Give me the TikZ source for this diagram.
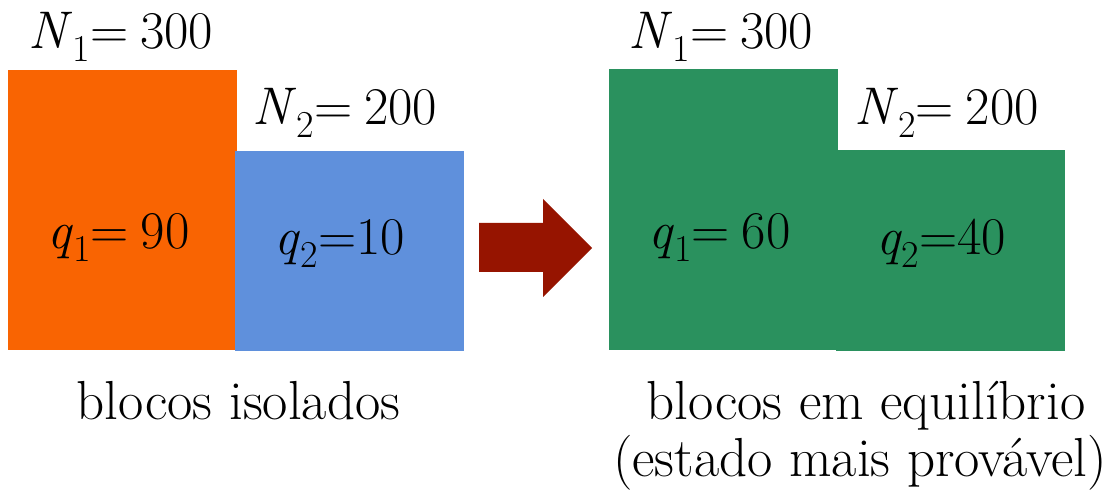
\documentclass[tikz,border=0pt]{standalone}
\usepackage{fontspec}
\definecolor{blkorange}{RGB}{249,100,2}
\definecolor{blkblue}{RGB}{95,144,220}
\definecolor{blkgreen}{RGB}{42,145,94}
\definecolor{arrowred}{RGB}{150,20,0}
\newcommand{\vlab}[3]{\textit{#1}\raisebox{-12.5pt}{\fontsize{38}{38}\selectfont #2}#3}
\begin{document}
\begin{tikzpicture}[x=1pt,y=-1pt,
  block/.style={draw=none,inner sep=0,anchor=north west},
  txt/.style={inner sep=0,anchor=base,font=\fontsize{53}{60}\selectfont},
  captxt/.style={inner sep=0,anchor=base,font=\fontsize{55}{62}\selectfont}]
\useasboundingbox (0,0) rectangle (1109,494);
% left blocks
\node[block,fill=blkorange,minimum width=229pt,minimum height=280pt] (b1) at (8,70) {};
\node[block,fill=blkblue,minimum width=229pt,minimum height=200pt] (b2) at (235,151) {};
% right blocks
\node[block,fill=blkgreen,minimum width=229pt,minimum height=281pt] (g1) at (609,69) {};
\node[block,fill=blkgreen,minimum width=229pt,minimum height=201pt] (g2) at (836,150) {};
% arrow
\fill[arrowred] (479,223) -- (543,223) -- (543,199) -- (592,248) -- (543,297) -- (543,272) -- (479,272) -- cycle;
% labels
\node[txt] (n1) at (121,49) {\vlab{N}{1}{=\hspace{12pt}300}};
\node[txt] (n2) at (345,125) {\vlab{N}{2}{=\hspace{12pt}200}};
\node[txt] (q1) at (118.5,249) {\vlab{q}{1}{=\hspace{12pt}90}};
\node[txt] (q2) at (340,255) {\vlab{q}{2}{=10}};
\node[txt] (n1r) at (721,49) {\vlab{N}{1}{=\hspace{12pt}300}};
\node[txt] (n2r) at (946.5,125) {\vlab{N}{2}{=\hspace{12pt}200}};
\node[txt] (q1r) at (719.5,249) {\vlab{q}{1}{=\hspace{12pt}60}};
\node[txt] (q2r) at (941,255) {\vlab{q}{2}{=40}};
\node[captxt] (capl) at (238.5,419) {blocos isolados};
\node[captxt] (capr1) at (866,420) {blocos em equilíbrio};
\node[captxt] (capr2) at (860,476) {(estado mais provável)};
\end{tikzpicture}
\end{document}
